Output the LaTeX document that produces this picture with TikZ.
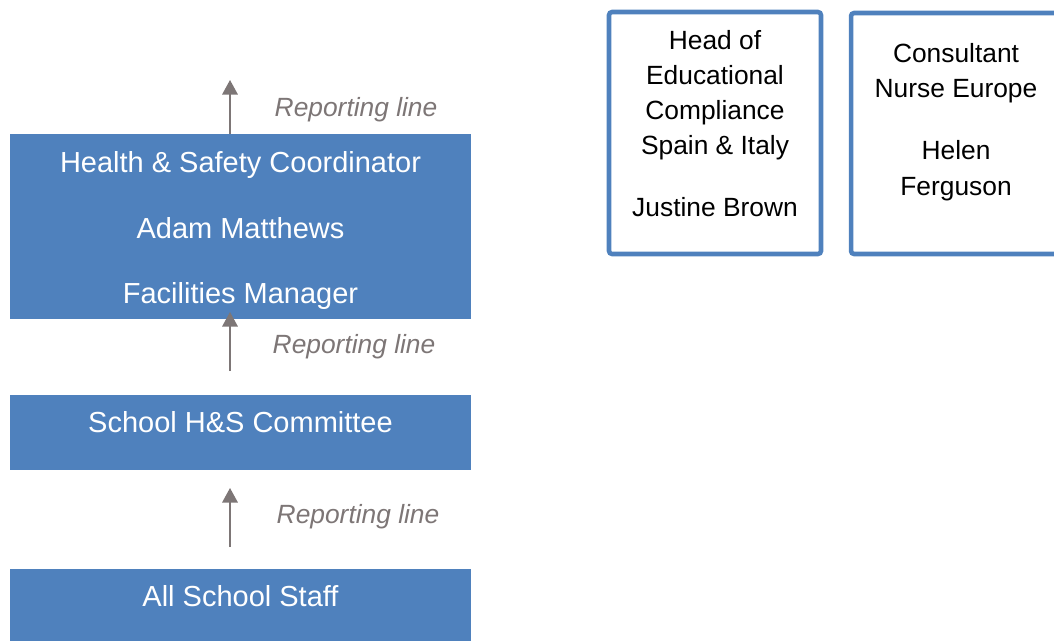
\documentclass[tikz,border=0pt]{standalone}
\usepackage{fontspec}
\setmainfont{Liberation Sans}
\usetikzlibrary{arrows.meta,positioning}
\definecolor{boxblue}{RGB}{79,129,189}
\definecolor{linegray}{RGB}{125,118,118}
\tikzset{
  bluebox/.style={
    fill=boxblue,
    text=white,
    minimum width=9.22cm,
    inner sep=0pt,
    align=center,
    font=\fontsize{16.5}{20}\selectfont
  },
  rolebox/.style={
    draw=boxblue,
    line width=2.6pt,
    rounded corners=0.6mm,
    minimum width=4.24cm,
    inner sep=0pt
  },
  roletext/.style={
    align=center,
    inner sep=0pt,
    font=\fontsize{15}{20.1}\selectfont
  },
  report/.style={-{Triangle[width=0.31cm,length=0.29cm]}, draw=linegray, line width=0.85pt},
  replabel/.style={font=\fontsize{15}{18}\selectfont\itshape, text=linegray, inner sep=0pt}
}
\begin{document}
\begin{tikzpicture}[x=0.02cm, y=-0.02cm]
  \useasboundingbox (0,0) rectangle (1054,640);
  % left column
  \node[bluebox, minimum height=3.7cm] (hs) at (240.5,226.5) {};
  \node[align=center, text=white, inner sep=0pt, font=\fontsize{16.5}{37}\selectfont] (hstext) at (240.5,230.5)
    {Health \& Safety Coordinator\\Adam Matthews\\Facilities Manager};
  \node[bluebox, minimum height=1.5cm, text height=12pt, text depth=12pt] (cttee) at (240.5,432.5)
    {School H\&S Committee};
  \node[bluebox, minimum height=1.5cm, text height=12pt, text depth=12pt] (staff) at (240.5,606)
    {All School Staff};
  % right boxes
  \node[rolebox, minimum height=4.84cm] (head) at (715,133) {};
  \node[roletext] (headtext) at (715,123.5)
    {Head of\\Educational\\Compliance\\Spain \& Italy\\[0.53cm]Justine Brown};
  \node[rolebox, minimum height=4.82cm] (nurse) at (957,133.5) {};
  \node[roletext] (nursetext) at (956,122)
    {Consultant\\Nurse Europe\\[0.53cm]Helen\\Ferguson};
  % reporting lines
  \coordinate (tip1) at (230,80);
  \coordinate (tail2) at (230,371);
  \coordinate (tip2) at (230,312);
  \coordinate (tail3) at (230,547);
  \coordinate (tip3) at (230,488);
  \draw[report] (hs.north -| tip1) -- node[replabel, right=0.88cm, yshift=-0.06cm] (rl1) {Reporting line} (tip1);
  \draw[report] (tail2) -- node[replabel, right=0.84cm, yshift=-0.1cm] (rl2) {Reporting line} (tip2);
  \draw[report] (tail3) -- node[replabel, right=0.92cm, yshift=0.02cm] (rl3) {Reporting line} (tip3);
\end{tikzpicture}
\end{document}
